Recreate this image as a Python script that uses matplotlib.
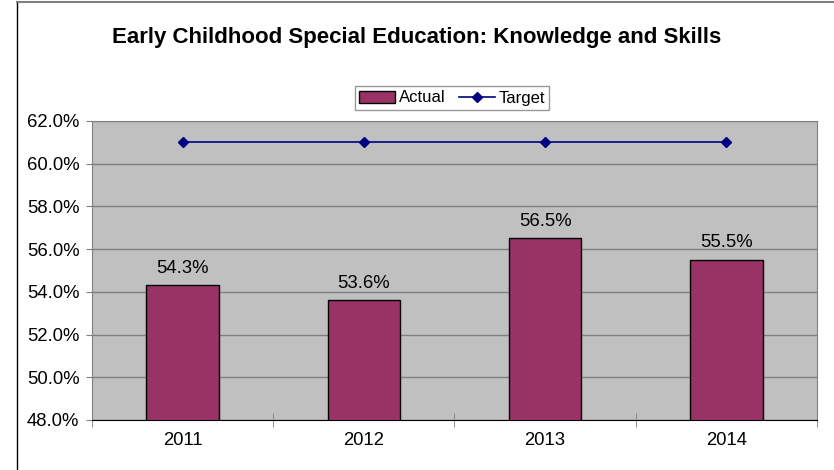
import numpy as np
import matplotlib.pyplot as plt
from matplotlib.lines import Line2D
from matplotlib.patches import Rectangle

plt.rcParams['font.family'] = ['Liberation Sans', 'DejaVu Sans']

years = ['2011', '2012', '2013', '2014']
actual = [54.3, 53.6, 56.5, 55.5]
target = [61.0, 61.0, 61.0, 61.0]

bar_color = '#993366'
line_color = '#000080'

fig = plt.figure(figsize=(8.34, 4.70), dpi=100)
ax = fig.add_axes([0.1103, 0.1064, 0.8693, 0.6362])

# chart frame (left and top edges only show)
fig.add_artist(Line2D([17/834, 17/834], [0, 1 - 2/470], color='black', lw=1))
fig.add_artist(Line2D([17/834, 1], [1 - 2/470, 1 - 2/470], color='#808080', lw=1.5))

x = np.arange(len(years))
ax.set_facecolor('#C0C0C0')
ax.bar(x, actual, width=0.4, color=bar_color, edgecolor='black', linewidth=1, zorder=3)
ax.plot(x, target, color=line_color, marker='D', markersize=5, lw=1.2, zorder=4)

for xi, v in zip(x, actual):
    ax.annotate(f'{v:.1f}%', (xi, v), xytext=(0, 6), textcoords='offset points',
                ha='center', va='bottom', fontsize=13.3)

ax.set_xlim(-0.5, len(years) - 0.5)
ax.set_ylim(48, 62)
ax.set_yticks(np.arange(48, 62.1, 2))
ax.set_yticklabels([f'{t:.1f}%' for t in np.arange(48, 62.1, 2)], fontsize=13.3)
ax.yaxis.grid(True, color='#808080', lw=1, zorder=0)
ax.set_axisbelow(True)

ax.set_xticks(x)
ax.set_xticklabels(years, fontsize=13.3)
ax.tick_params(axis='x', length=0, pad=9)
ax.set_xticks(np.arange(-0.5, len(years)), minor=True)
ax.tick_params(axis='x', which='minor', direction='inout', length=10, color='#808080')
ax.tick_params(axis='y', length=4, color='#808080', pad=5)

for side in ['top', 'right']:
    ax.spines[side].set_color('#808080')
ax.spines['left'].set_color('#808080')
ax.spines['bottom'].set_color('black')

fig.text(0.5, 1 - 38/470, 'Early Childhood Special Education: Knowledge and Skills',
         ha='center', va='center', fontsize=16, fontweight='bold')

handles = [Rectangle((0, 0), 1, 1, facecolor=bar_color, edgecolor='black'),
           Line2D([], [], color=line_color, marker='D', markersize=5, lw=1.2)]
leg = fig.legend(handles, ['Actual', 'Target'], loc='center', bbox_to_anchor=(0.542, 1 - 98/470),
                 ncol=2, fontsize=12, frameon=True, fancybox=False, edgecolor='#808080',
                 handlelength=2.2, handletextpad=0.2, columnspacing=0.8, borderpad=0.25)
leg.get_frame().set_linewidth(1)

fig.savefig('out.png', dpi=100)
